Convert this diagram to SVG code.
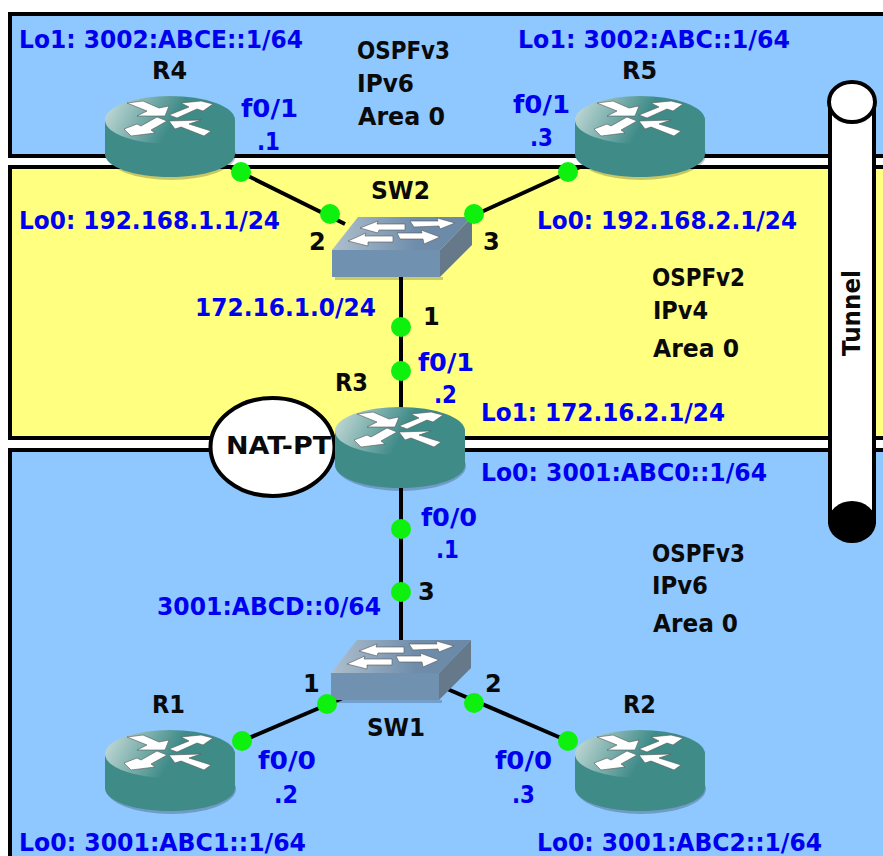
<svg xmlns="http://www.w3.org/2000/svg" width="883" height="856" viewBox="0 0 883 856">
<style>
text{font-family:"DejaVu Sans",Verdana,sans-serif;font-weight:bold;font-size:24px}
.b{fill:#0000f0}
.k{fill:#0a0a0a}
.area{stroke:#000;stroke-width:4}
.link{stroke:#000;stroke-width:4;fill:none}
.dot{fill:#0ef00e}
.w{fill:#fff;stroke:#555;stroke-width:.6}
</style>
<defs>
<linearGradient id="rt" x1="0" x2="1" y1="0.3" y2="0.5"><stop offset="0" stop-color="#c0d8d5"/><stop offset=".55" stop-color="#3f8b88"/><stop offset="1" stop-color="#3f8b88"/></linearGradient>
<linearGradient id="st" x1="0" x2="1" y1="0" y2="0"><stop offset="0" stop-color="#aebfcd"/><stop offset=".6" stop-color="#6f8dab"/><stop offset="1" stop-color="#6a89a6"/></linearGradient>
<g id="router">
<ellipse cx="66" cy="59" rx="65" ry="25" fill="#000" opacity=".22"/>
<path d="M0 24V58C0 71 29 81 65 81S130 71 130 58V24Z" fill="#3f8b88"/>
<ellipse cx="65" cy="24" rx="65" ry="24" fill="url(#rt)"/>
<path class="w" d="M22 7L38 5 54 12 64 10 60 20 32 20 42 15Z"/>
<path class="w" d="M76 7L96 5 108 8 98 15 92 13 72 22 64 19 84 11Z"/>
<path class="w" d="M19 33L32 28 36 30 52 21 62 25 46 34 50 37 26 40Z"/>
<path class="w" d="M64 25L96 24 84 28 106 35 99 40 76 31 70 33Z"/>
</g>
<g id="switch">
<path d="M3 60H111V63H3Z" fill="#000" opacity=".2"/>
<path d="M0 33L26 0H140L108 33Z" fill="url(#st)"/>
<path d="M0 33H108V60H0Z" fill="#7091af"/>
<path d="M108 33L140 0V28L108 60Z" fill="#66798b"/>
<path class="w" d="M16 24L34 16 33 19 61 19 61 25 36 25 36 29Z"/>
<path class="w" d="M28 11L46 4 45 7 73 7 73 13 47 13 46 16Z"/>
<path class="w" d="M65 16H90L89 13 108 20 92 27 91 22 68 22Z"/>
<path class="w" d="M78 4H106L105 1 123 6 108 12 107 9 82 10Z"/>
</g>
</defs>
<rect width="883" height="856" fill="#fff"/>
<g id="areas">
<path class="area" d="M885 14H10V156H885" fill="#8fc7ff"/>
<path class="area" d="M885 167H10V438H885" fill="#ffff80"/>
<path class="area" d="M885 450H10V860H885" fill="#8fc7ff"/>
</g>
<g id="connectors">
<path class="link" d="M230 167L345 224"/>
<path class="link" d="M455 224L580 167"/>
<path class="link" d="M401 270V415"/>
<path class="link" d="M401 485V650"/>
<path class="link" d="M345 697L242 741"/>
<path class="link" d="M445 688L568 741"/>
</g>
<g id="tunnel">
<path d="M830 102V522H874V102Z" fill="#fff" stroke="#000" stroke-width="4"/>
<ellipse cx="852" cy="102" rx="23" ry="20" fill="#fff" stroke="#000" stroke-width="4"/>
<ellipse cx="852" cy="522" rx="24" ry="21" fill="#000"/>
<text class="k" transform="translate(860 356) rotate(-90)" textLength="86" lengthAdjust="spacingAndGlyphs">Tunnel</text>
</g>
<g id="nat"><ellipse cx="272.500" cy="447" rx="62" ry="49" fill="#fff" stroke="#000" stroke-width="4"/><text class="k" x="226" y="454" textLength="105" lengthAdjust="spacingAndGlyphs">NAT-PT</text></g>
<g id="R4"><use href="#router" x="105" y="96"/><text class="k" x="152" y="79" textLength="35" lengthAdjust="spacingAndGlyphs">R4</text></g>
<g id="R5"><use href="#router" x="575" y="96"/><text class="k" x="622" y="79" textLength="35" lengthAdjust="spacingAndGlyphs">R5</text></g>
<g id="R3"><use href="#router" x="335" y="407"/><text class="k" x="335" y="391" textLength="33" lengthAdjust="spacingAndGlyphs">R3</text></g>
<g id="R1"><use href="#router" x="105" y="730"/><text class="k" x="152" y="713" textLength="33" lengthAdjust="spacingAndGlyphs">R1</text></g>
<g id="R2"><use href="#router" x="575" y="730"/><text class="k" x="623" y="713" textLength="33" lengthAdjust="spacingAndGlyphs">R2</text></g>
<g id="SW2"><use href="#switch" x="332" y="217"/><text class="k" x="371" y="199" textLength="59" lengthAdjust="spacingAndGlyphs">SW2</text></g>
<g id="SW1"><use href="#switch" x="331" y="641" transform="translate(0 -1)"/><text class="k" x="367" y="736" textLength="58" lengthAdjust="spacingAndGlyphs">SW1</text></g>
<g id="dots" class="dot">
<circle cx="241" cy="172" r="10"/><circle cx="330" cy="214" r="10"/><circle cx="474" cy="214" r="10"/><circle cx="568" cy="172" r="10"/>
<circle cx="401" cy="327" r="10"/><circle cx="401" cy="371" r="10"/><circle cx="401" cy="529" r="10"/><circle cx="401" cy="592" r="10"/>
<circle cx="327" cy="704" r="10"/><circle cx="474" cy="703" r="10"/><circle cx="242" cy="741" r="10"/><circle cx="568" cy="741" r="10"/>
</g>
<g id="labels">
<text class="b" x="19" y="48" textLength="284" lengthAdjust="spacingAndGlyphs">Lo1: 3002:ABCE::1/64</text>
<text class="b" x="518" y="48" textLength="272" lengthAdjust="spacingAndGlyphs">Lo1: 3002:ABC::1/64</text>
<text class="k" x="357" y="59" textLength="93" lengthAdjust="spacingAndGlyphs">OSPFv3</text>
<text class="k" x="357" y="92" textLength="57" lengthAdjust="spacingAndGlyphs">IPv6</text>
<text class="k" x="358" y="125" textLength="87" lengthAdjust="spacingAndGlyphs">Area 0</text>
<text class="b" x="241" y="117" textLength="57" lengthAdjust="spacingAndGlyphs">f0/1</text>
<text class="b" x="257" y="150" textLength="23" lengthAdjust="spacingAndGlyphs">.1</text>
<text class="b" x="513" y="113" textLength="57" lengthAdjust="spacingAndGlyphs">f0/1</text>
<text class="b" x="530" y="146" textLength="23" lengthAdjust="spacingAndGlyphs">.3</text>
<text class="b" x="19" y="229" textLength="261" lengthAdjust="spacingAndGlyphs">Lo0: 192.168.1.1/24</text>
<text class="b" x="537" y="229" textLength="260" lengthAdjust="spacingAndGlyphs">Lo0: 192.168.2.1/24</text>
<text class="k" x="309" y="250">2</text>
<text class="k" x="483" y="250">3</text>
<text class="k" x="652" y="286" textLength="93" lengthAdjust="spacingAndGlyphs">OSPFv2</text>
<text class="k" x="653" y="319" textLength="55" lengthAdjust="spacingAndGlyphs">IPv4</text>
<text class="k" x="653" y="357" textLength="86" lengthAdjust="spacingAndGlyphs">Area 0</text>
<text class="b" x="195" y="316" textLength="181" lengthAdjust="spacingAndGlyphs">172.16.1.0/24</text>
<text class="k" x="423" y="325">1</text>
<text class="b" x="418" y="371" textLength="56" lengthAdjust="spacingAndGlyphs">f0/1</text>
<text class="b" x="434" y="403" textLength="23" lengthAdjust="spacingAndGlyphs">.2</text>
<text class="b" x="481" y="421" textLength="244" lengthAdjust="spacingAndGlyphs">Lo1: 172.16.2.1/24</text>
<text class="b" x="481" y="481" textLength="286" lengthAdjust="spacingAndGlyphs">Lo0: 3001:ABC0::1/64</text>
<text class="b" x="421" y="526" textLength="56" lengthAdjust="spacingAndGlyphs">f0/0</text>
<text class="b" x="436" y="558" textLength="23" lengthAdjust="spacingAndGlyphs">.1</text>
<text class="k" x="418" y="600">3</text>
<text class="b" x="157" y="615" textLength="224" lengthAdjust="spacingAndGlyphs">3001:ABCD::0/64</text>
<text class="k" x="652" y="562" textLength="93" lengthAdjust="spacingAndGlyphs">OSPFv3</text>
<text class="k" x="652" y="594" textLength="56" lengthAdjust="spacingAndGlyphs">IPv6</text>
<text class="k" x="653" y="632" textLength="85" lengthAdjust="spacingAndGlyphs">Area 0</text>
<text class="k" x="303" y="692">1</text>
<text class="k" x="485" y="692">2</text>
<text class="b" x="258" y="769" textLength="58" lengthAdjust="spacingAndGlyphs">f0/0</text>
<text class="b" x="274" y="803" textLength="24" lengthAdjust="spacingAndGlyphs">.2</text>
<text class="b" x="495" y="769" textLength="57" lengthAdjust="spacingAndGlyphs">f0/0</text>
<text class="b" x="512" y="803" textLength="23" lengthAdjust="spacingAndGlyphs">.3</text>
<text class="b" x="19" y="851" textLength="287" lengthAdjust="spacingAndGlyphs">Lo0: 3001:ABC1::1/64</text>
<text class="b" x="537" y="851" textLength="285" lengthAdjust="spacingAndGlyphs">Lo0: 3001:ABC2::1/64</text>
</g>
</svg>
